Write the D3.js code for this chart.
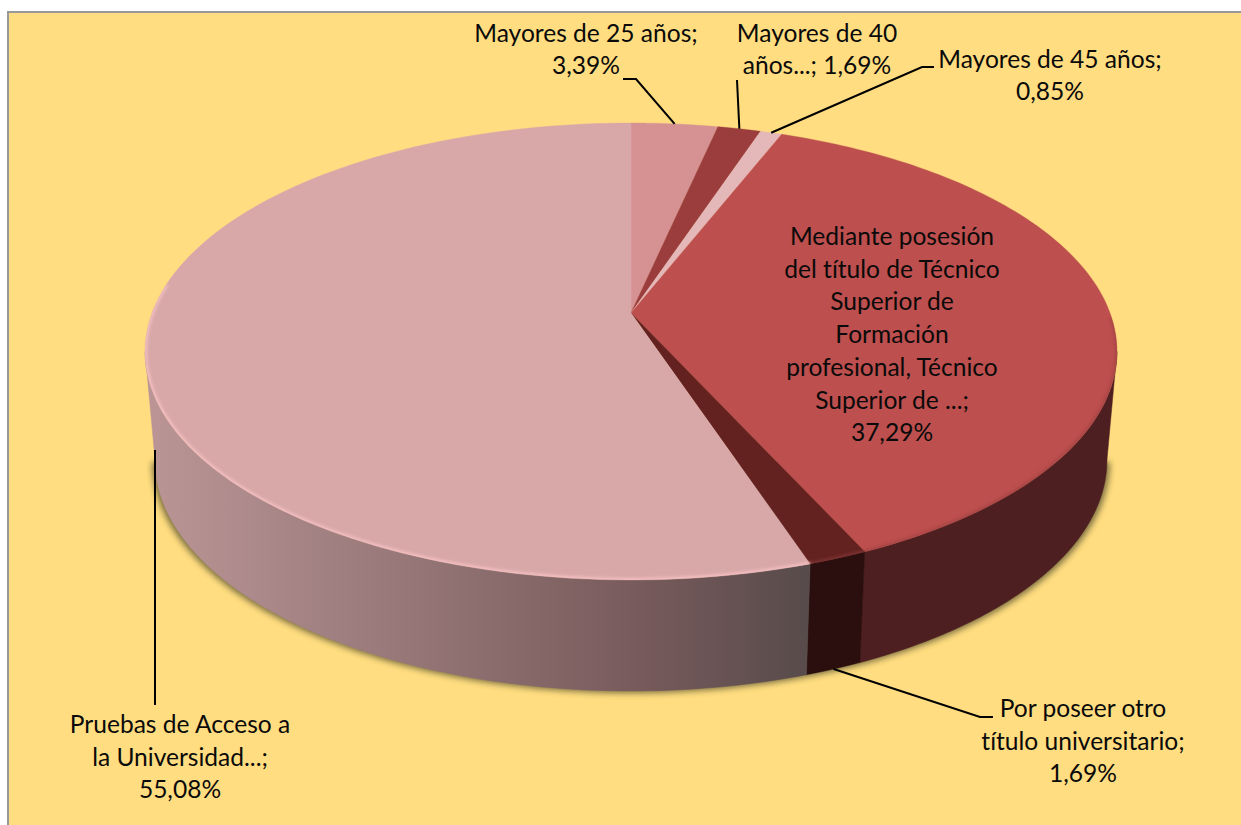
<!DOCTYPE html>
<html><head><meta charset="utf-8">
<script src="https://cdnjs.cloudflare.com/ajax/libs/d3/7.8.5/d3.min.js"></script>
<style>html,body{margin:0;padding:0;background:#fff;overflow:hidden}svg{display:block}text{font-family:Lato,"Open Sans",sans-serif;font-size:24.55px;fill:#0a0a0a;text-anchor:middle;font-variant-ligatures:none;font-feature-settings:"liga" 0,"clig" 0,"dlig" 0}</style>
</head><body><svg id="c" width="1241" height="825"></svg>
<script>
const categories = ["Mayores de 25 años","Mayores de 40 años...","Mayores de 45 años","Mediante posesión del título de Técnico Superior de Formación profesional, Técnico Superior de ...","Por poseer otro título universitario","Pruebas de Acceso a la Universidad..."];
const values = [3.39,1.69,0.85,37.29,1.69,55.08];
const topColors = ["#d69293","#9a3d3c","#e4b7b9","#bd4f4e","#632120","#d8a8a9"];
const wallColors = [null,null,null,"#4e1f20","#2a0f0e",null];
const labelLines = [
 ["Mayores de 25 años;","3,39%"],
 ["Mayores de 40","años...; 1,69%"],
 ["Mayores de 45 años;","0,85%"],
 ["Mediante posesión","del título de Técnico","Superior de","Formación","profesional, Técnico","Superior de ...;","37,29%"],
 ["Por poseer otro","título universitario;","1,69%"],
 ["Pruebas de Acceso a","la Universidad...;","55,08%"]];
const labelPos = [[586,42],[817,42],[1050,68],[892,245],[1083,717],[180,733]];
const labelLeading = [32.4,32.4,32.2,32.7,32.7,32.7];
const leaderElbows = [[[636,79],[623,79]],[[737,80]],[[922,67],[934,67]],null,[[980,717],[993,717]],[[155,705]]];

const svg = d3.select("#c");
const W=1241,H=825;
const cx=631, apexY=313, a=479, b=222, k=-0.1685;
const capCY=351.5, capRY=228.5, capRX=486, lowCY=460, lowRX=476, lowRY=231;
const wallStart=Math.PI-Math.acos(0.1685), wallEnd=Math.PI+Math.acos(0.1685);
function rimTop(t){const X=Math.sin(t),Y=-Math.cos(t),d=1+k*Y;return [cx+a*X/d,apexY+b*Y/d];}
function rimLow(t){const p=rimTop(t);return [cx+(p[0]-cx)*lowRX/capRX,lowCY+(p[1]-capCY)*lowRY/capRY];}
const arcs=d3.pie().sort(null).value(d=>d).startAngle(0).endAngle(2*Math.PI)(values);
const line=d3.line();
const samples=(s,e,fn)=>d3.range(0,121).map(i=>fn(s+(e-s)*i/120));

const defs=svg.append("defs");
defs.append("filter").attr("id","sh").attr("x","-10%").attr("y","-10%").attr("width","120%").attr("height","120%").append("feGaussianBlur").attr("stdDeviation",3.2);
defs.append("filter").attr("id","bev").attr("x","-10%").attr("y","-10%").attr("width","120%").attr("height","120%").append("feGaussianBlur").attr("stdDeviation",1.4);
const gr=defs.append("linearGradient").attr("id","wg").attr("gradientUnits","userSpaceOnUse").attr("x1",150).attr("x2",808).attr("y1",0).attr("y2",0);
gr.selectAll("stop").data([[0,"#bb9596"],[0.25,"#a38283"],[0.5,"#8d6e6f"],[0.75,"#775a5b"],[1,"#584b4b"]]).join("stop").attr("offset",d=>d[0]).attr("stop-color",d=>d[1]);

// page background and border
svg.append("rect").attr("x",8).attr("y",12).attr("width",W).attr("height",H).attr("fill","#ffdd80").attr("stroke","#98989a").attr("stroke-width",2);

// soft shadow under the drum
const outline=samples(wallStart,wallEnd,rimLow).map(p=>[cx+(p[0]-cx)*1.006,p[1]+2]);
svg.append("path").attr("d",line(outline)+"Z").attr("fill","#5a5230").attr("opacity",.8).attr("filter","url(#sh)");

// side walls
arcs.forEach((d,i)=>{
  const s=Math.max(d.startAngle,wallStart), e=Math.min(d.endAngle,wallEnd);
  if(e<=s) return;
  const pts=samples(s,e,rimTop).concat(samples(s,e,rimLow).reverse());
  svg.append("path").attr("d",line(pts)+"Z").attr("fill",wallColors[i]||"url(#wg)").attr("stroke",wallColors[i]||"url(#wg)").attr("stroke-width",.5);
});

// top slices
arcs.forEach((d,i)=>{
  const pts=[[cx,apexY]].concat(samples(d.startAngle,d.endAngle,rimTop));
  svg.append("path").attr("d",line(pts)+"Z").attr("fill",topColors[i]).attr("stroke",topColors[i]).attr("stroke-width",.4);
});
// bevel along the visible front of the rim only
defs.append("clipPath").attr("id","capClip").append("path").attr("d",line(samples(0,2*Math.PI,rimTop))+"Z");
const bevel=svg.append("g").attr("clip-path","url(#capClip)");
arcs.forEach((d,i)=>{
  const colour=i===5?"#f6c0c1":i===3?"#a84545":i===4?"#7a3030":null;
  if(!colour) return;
  const s=Math.max(d.startAngle,wallStart-0.15), e=Math.min(d.endAngle,wallEnd+0.3);
  bevel.append("path").attr("d",line(samples(s,e,rimTop))).attr("fill","none").attr("stroke",colour).attr("stroke-width",4).attr("filter","url(#bev)");
});

// leader lines
arcs.forEach((d,i)=>{
  if(!leaderElbows[i]) return;
  const mid=(d.startAngle+d.endAngle)/2;
  let anchor;
  if(i===4) anchor=rimLow(mid);
  else if(i===5) anchor=[leaderElbows[i][0][0],rimLow(mid+0.033)[1]];
  else anchor=rimTop(mid);
  svg.append("path").attr("d",line([anchor].concat(leaderElbows[i]))).attr("fill","none").attr("stroke","#000").attr("stroke-width",2);
});

// labels
labelLines.forEach((ls,i)=>{
  const t=svg.append("text").attr("x",labelPos[i][0]).attr("y",labelPos[i][1]);
  ls.forEach((s,j)=>t.append("tspan").attr("x",labelPos[i][0]).attr("y",labelPos[i][1]+j*labelLeading[i]).text(s));
});
</script></body></html>
